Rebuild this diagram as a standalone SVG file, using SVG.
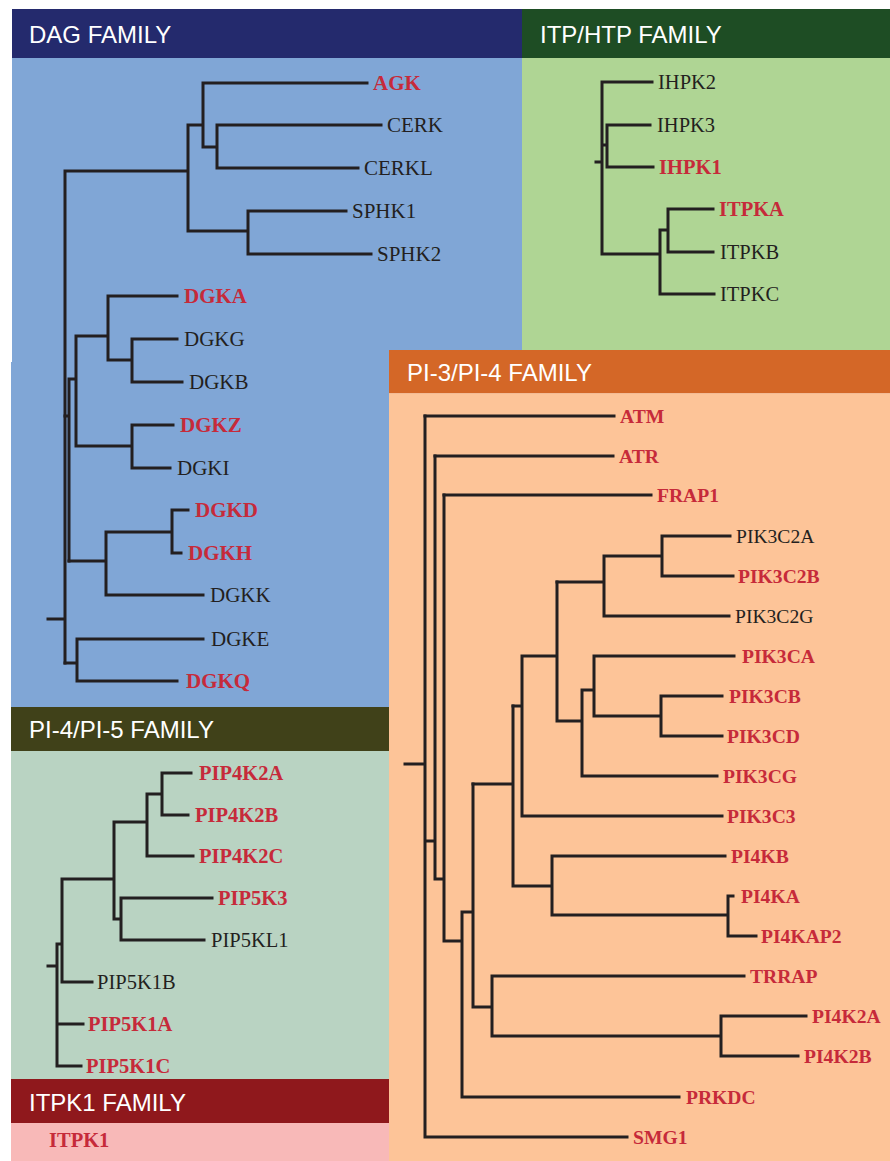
<svg xmlns="http://www.w3.org/2000/svg" width="890" height="1161" viewBox="0 0 890 1161">
<style>
.hd{font-family:"Liberation Sans",Arial,sans-serif;font-size:24px;fill:#ffffff}
.lb{font-family:"Liberation Serif","Times New Roman",serif;fill:#231f20}
.r{font-weight:bold;fill:#c62a3a}
.dag{font-size:21px}
.itp{font-size:20.5px}
.pi3{font-size:19.6px}
.pi45{font-size:20.5px}
.tree{fill:none;stroke:#231f20;stroke-width:3;stroke-linecap:square;stroke-linejoin:miter}
</style>
<rect x="0" y="0" width="890" height="1161" fill="#ffffff"/>
<g id="panel-dag">
<rect x="12" y="9" width="510" height="49" fill="#242a6d"/>
<rect x="12" y="58" width="510" height="304" fill="#80a6d6"/>
<rect x="11" y="362" width="378" height="345" fill="#80a6d6"/>
<text class="hd" x="29" y="43">DAG FAMILY</text>
</g>
<g id="panel-itp">
<rect x="522" y="9" width="368" height="49" fill="#1e4d24"/>
<rect x="522" y="58" width="368" height="292" fill="#afd594"/>
<text class="hd" x="540" y="43">ITP/HTP FAMILY</text>
</g>
<g id="panel-pi3">
<rect x="389" y="350" width="501" height="43.5" fill="#d46727"/>
<rect x="389" y="393.5" width="501" height="767.5" fill="#fdc498"/>
<text class="hd" x="407" y="381">PI-3/PI-4 FAMILY</text>
</g>
<g id="panel-pi45">
<rect x="11" y="707" width="378" height="44" fill="#404119"/>
<rect x="11" y="751" width="378" height="328" fill="#b9d3c2"/>
<text class="hd" x="29" y="738">PI-4/PI-5 FAMILY</text>
</g>
<g id="panel-itpk1">
<rect x="11" y="1079" width="378" height="44" fill="#8f181c"/>
<rect x="11" y="1123" width="378" height="38" fill="#f8b9b8"/>
<text class="hd" x="29" y="1111">ITPK1 FAMILY</text>
</g>
<g id="connectors" class="tree">
<path d="M203,83H367 M203,83V147H217 M217,125H381 M217,168H358 M217,125V168 M188,125H203 M188,125V231 M248,211H346 M248,254H371 M248,211V254 M188,231H248 M65,171H188 M65,171V663 M48,619H65"/>
<path d="M108,296H177 M132,339H177 M132,382H182 M132,339V382 M108,360H132 M108,296V360 M76,336H108 M132,425H173 M132,468H170 M132,425V468 M76,446H132 M76,336V446 M69,379H76 M69,379V561 M65,416H69"/>
<path d="M172,510H188 M172,553H181 M172,510V553 M106,532H172 M106,595H203 M106,532V595 M69,561H106 M77,639H203 M77,681H177 M77,639V681 M65,663H77"/>
<path d="M602,82H652 M607,125H650 M607,167H653 M607,125V167 M602,145H607 M602,82V254 M596,162H602 M602,254H660 M668,209H713 M668,252H713 M668,209V252 M660,230H668 M660,294H714 M660,230V294"/>
<path d="M425,416H614 M435,456H613 M444,495H651 M662,536H730 M662,576H733 M662,536V576 M604,556H662 M604,616H729 M604,556V616 M557,582H604"/>
<path d="M594,656H734 M661,696H722 M661,736H722 M661,696V736 M594,716H661 M594,656V716 M582,690H594 M582,776H717 M582,690V776 M557,721H582 M557,582V721 M522,656H557 M522,816H722 M522,656V816 M513,706H522"/>
<path d="M552,856H725 M728,896H733 M728,936H756 M728,896V936 M552,915H728 M552,856V915 M513,886H552 M513,706V886 M473,784H513"/>
<path d="M492,976H744 M721,1016H806 M721,1056H798 M721,1016V1056 M492,1036H721 M492,976V1036 M473,1007H492 M473,784V1007 M462,912H473 M462,1097H679 M462,912V1097 M444,941H462 M444,495V941 M435,879H444 M435,456V879 M425,841H435 M425,1137H627 M425,416V1137 M405,764H425"/>
<path d="M162,773H191 M162,815H188 M162,773V815 M147,794H162 M147,856H193 M147,794V856 M114,822H147 M121,898H212 M121,940H204 M121,898V940 M114,919H121 M114,822V919 M62,879H114 M62,982H92 M62,879V982 M57,944H62 M57,1024H83 M57,1066H81 M57,944V1066 M48,966H57"/>
</g>
<g id="AGK"><text class="lb dag r" x="373" y="90">AGK</text></g>
<g id="CERK"><text class="lb dag" x="387" y="132">CERK</text></g>
<g id="CERKL"><text class="lb dag" x="364" y="175">CERKL</text></g>
<g id="SPHK1"><text class="lb dag" x="352" y="218">SPHK1</text></g>
<g id="SPHK2"><text class="lb dag" x="377" y="261">SPHK2</text></g>
<g id="DGKA"><text class="lb dag r" x="184" y="303">DGKA</text></g>
<g id="DGKG"><text class="lb dag" x="184" y="346">DGKG</text></g>
<g id="DGKB"><text class="lb dag" x="189" y="389">DGKB</text></g>
<g id="DGKZ"><text class="lb dag r" x="180" y="432">DGKZ</text></g>
<g id="DGKI"><text class="lb dag" x="177" y="475">DGKI</text></g>
<g id="DGKD"><text class="lb dag r" x="195" y="517">DGKD</text></g>
<g id="DGKH"><text class="lb dag r" x="188" y="560">DGKH</text></g>
<g id="DGKK"><text class="lb dag" x="210" y="602">DGKK</text></g>
<g id="DGKE"><text class="lb dag" x="211" y="646">DGKE</text></g>
<g id="DGKQ"><text class="lb dag r" x="186" y="688">DGKQ</text></g>
<g id="IHPK2"><text class="lb itp" x="658" y="89">IHPK2</text></g>
<g id="IHPK3"><text class="lb itp" x="657" y="132">IHPK3</text></g>
<g id="IHPK1"><text class="lb itp r" x="659" y="174">IHPK1</text></g>
<g id="ITPKA"><text class="lb itp r" x="719" y="216">ITPKA</text></g>
<g id="ITPKB"><text class="lb itp" x="720" y="259">ITPKB</text></g>
<g id="ITPKC"><text class="lb itp" x="720" y="301">ITPKC</text></g>
<g id="ATM"><text class="lb pi3 r" x="620" y="423">ATM</text></g>
<g id="ATR"><text class="lb pi3 r" x="619" y="463">ATR</text></g>
<g id="FRAP1"><text class="lb pi3 r" x="657" y="502">FRAP1</text></g>
<g id="PIK3C2A"><text class="lb pi3" x="736" y="543">PIK3C2A</text></g>
<g id="PIK3C2B"><text class="lb pi3 r" x="738" y="583">PIK3C2B</text></g>
<g id="PIK3C2G"><text class="lb pi3" x="735" y="623">PIK3C2G</text></g>
<g id="PIK3CA"><text class="lb pi3 r" x="742" y="663">PIK3CA</text></g>
<g id="PIK3CB"><text class="lb pi3 r" x="729" y="703">PIK3CB</text></g>
<g id="PIK3CD"><text class="lb pi3 r" x="727" y="743">PIK3CD</text></g>
<g id="PIK3CG"><text class="lb pi3 r" x="723" y="783">PIK3CG</text></g>
<g id="PIK3C3"><text class="lb pi3 r" x="727" y="823">PIK3C3</text></g>
<g id="PI4KB"><text class="lb pi3 r" x="731" y="863">PI4KB</text></g>
<g id="PI4KA"><text class="lb pi3 r" x="741" y="903">PI4KA</text></g>
<g id="PI4KAP2"><text class="lb pi3 r" x="761" y="943">PI4KAP2</text></g>
<g id="TRRAP"><text class="lb pi3 r" x="750" y="983">TRRAP</text></g>
<g id="PI4K2A"><text class="lb pi3 r" x="812" y="1023">PI4K2A</text></g>
<g id="PI4K2B"><text class="lb pi3 r" x="804" y="1063">PI4K2B</text></g>
<g id="PRKDC"><text class="lb pi3 r" x="686" y="1104">PRKDC</text></g>
<g id="SMG1"><text class="lb pi3 r" x="633" y="1144">SMG1</text></g>
<g id="PIP4K2A"><text class="lb pi45 r" x="199" y="780">PIP4K2A</text></g>
<g id="PIP4K2B"><text class="lb pi45 r" x="195" y="822">PIP4K2B</text></g>
<g id="PIP4K2C"><text class="lb pi45 r" x="199" y="863">PIP4K2C</text></g>
<g id="PIP5K3"><text class="lb pi45 r" x="218" y="905">PIP5K3</text></g>
<g id="PIP5KL1"><text class="lb pi45" x="211" y="947">PIP5KL1</text></g>
<g id="PIP5K1B"><text class="lb pi45" x="97" y="989">PIP5K1B</text></g>
<g id="PIP5K1A"><text class="lb pi45 r" x="88" y="1031">PIP5K1A</text></g>
<g id="PIP5K1C"><text class="lb pi45 r" x="86" y="1073">PIP5K1C</text></g>
<g id="ITPK1"><text class="lb pi45 r" x="49" y="1147">ITPK1</text></g>
</svg>
